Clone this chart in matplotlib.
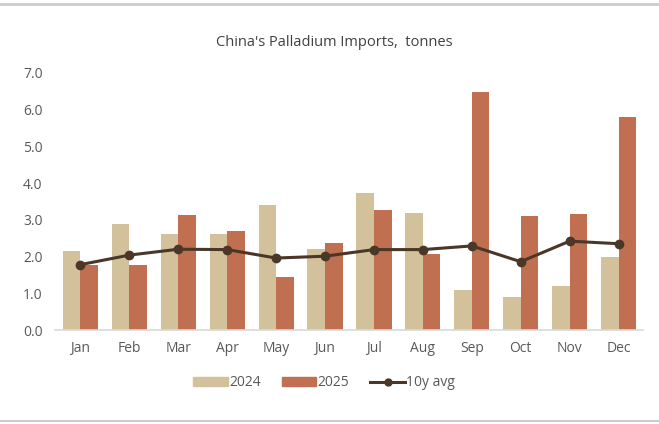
import matplotlib.pyplot as plt
import numpy as np
from matplotlib.lines import Line2D

months = ['Jan', 'Feb', 'Mar', 'Apr', 'May', 'Jun', 'Jul', 'Aug', 'Sep', 'Oct', 'Nov', 'Dec']
imports_2024 = [2.14, 2.89, 2.62, 2.62, 3.41, 2.21, 3.73, 3.18, 1.09, 0.91, 1.21, 1.99]
imports_2025 = [1.77, 1.77, 3.14, 2.70, 1.44, 2.37, 3.26, 2.08, 6.49, 3.10, 3.15, 5.80]
avg_10y = [1.78, 2.04, 2.20, 2.19, 1.96, 2.01, 2.19, 2.19, 2.29, 1.86, 2.42, 2.35]

c24 = '#d3c19c'
c25 = '#c07050'
cavg = '#4a3728'
grey = '#595959'

plt.rcParams['font.family'] = ['Open Sans', 'DejaVu Sans']

fig = plt.figure(figsize=(6.59, 4.24), dpi=100)
ax = fig.add_axes([55 / 659, 1 - 330 / 424, 588 / 659, 257 / 424])

x = np.arange(len(months))
w = 0.36
ax.bar(x - w / 2, imports_2024, w, color=c24, label='2024')
ax.bar(x + w / 2, imports_2025, w, color=c25, label='2025')
ax.plot(x, avg_10y, color=cavg, lw=2.2, marker='o', ms=6, label='10y avg')

ax.set_xlim(-0.52, 11.5)
ax.set_ylim(0, 7)
ax.set_yticks(np.arange(0, 7.1, 1.0))
ax.set_yticklabels(['%.1f' % v for v in np.arange(0, 7.1, 1.0)])
ax.set_xticks(x)
ax.set_xticklabels(months)
ax.tick_params(axis='both', length=0, colors=grey, labelsize=10)
ax.tick_params(axis='y', pad=9)
ax.tick_params(axis='x', pad=8)
for s in ['top', 'right', 'left']:
    ax.spines[s].set_visible(False)
ax.spines['bottom'].set_color('#d9d9d9')
ax.spines['bottom'].set_linewidth(1.2)

fig.text(0.508, 1 - 42 / 424, "China's Palladium Imports,  tonnes", ha='center', va='center',
         fontsize=10.5, color='#404040')

handles = [plt.Rectangle((0, 0), 1, 1, color=c24),
           plt.Rectangle((0, 0), 1, 1, color=c25),
           Line2D([0], [0], color=cavg, lw=2.2, marker='o', ms=5)]
leg = fig.legend(handles, ['2024', '2025', '10y avg'], loc='center',
                 bbox_to_anchor=(0.492, 1 - 383 / 424), ncol=3, frameon=False,
                 fontsize=10, handlelength=2.5, handleheight=0.6, handletextpad=0.1,
                 columnspacing=1.5)
for t in leg.get_texts():
    t.set_color(grey)

fig.add_artist(Line2D([0, 1], [1 - 4 / 424] * 2, color='#cccccc', lw=2))
fig.add_artist(Line2D([0, 1], [1 - 421 / 424] * 2, color='#cccccc', lw=1.5))

fig.savefig('out.png', dpi=100)
